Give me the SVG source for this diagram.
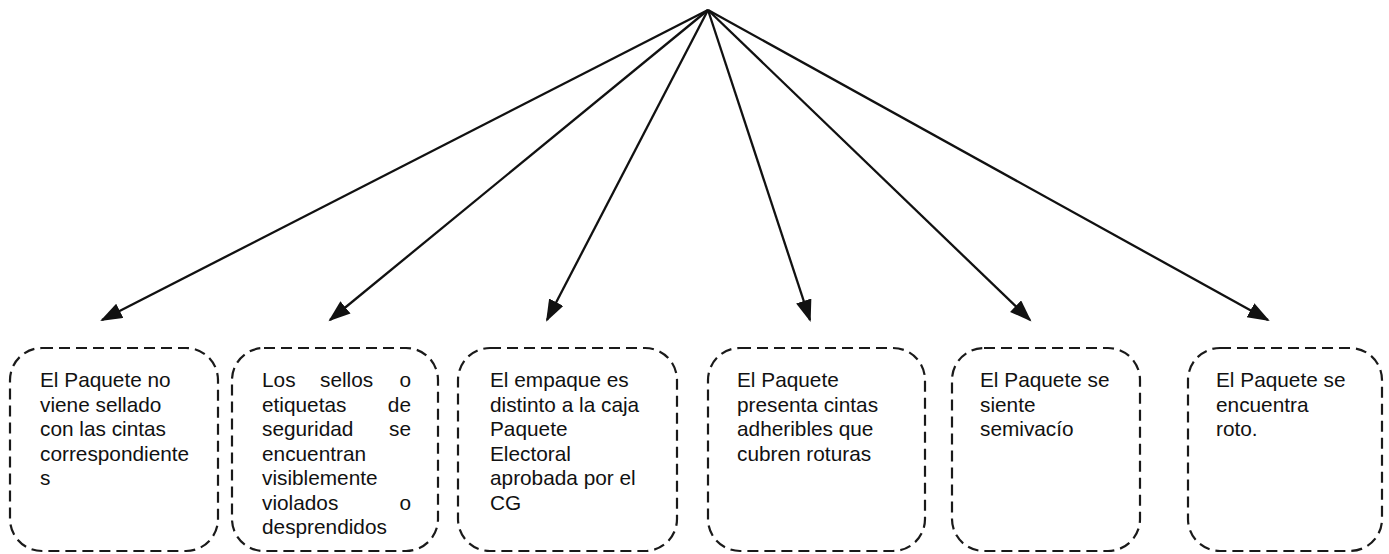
<svg xmlns="http://www.w3.org/2000/svg" width="1389" height="554" viewBox="0 0 1389 554">
<style>
.box{fill:none;stroke:#1a1a1a;stroke-width:2.2;stroke-dasharray:11 6}
.t{font-family:"Liberation Sans",Arial,sans-serif;font-size:20.8px;fill:#111}
.c{stroke:#111;stroke-width:2.3;fill:none}
</style>
<defs>
<marker id="ah" markerUnits="userSpaceOnUse" markerWidth="24" markerHeight="18" refX="20" refY="8" orient="auto">
<path d="M0,0 L22,8 L0,16 z" fill="#111"/>
</marker>
</defs>
<rect width="1389" height="554" fill="#fff"/>
<g id="connectors">
<line class="c" x1="708" y1="10" x2="102" y2="320" marker-end="url(#ah)"/>
<line class="c" x1="708" y1="10" x2="330" y2="320" marker-end="url(#ah)"/>
<line class="c" x1="708" y1="10" x2="547" y2="320" marker-end="url(#ah)"/>
<line class="c" x1="708" y1="10" x2="810" y2="320" marker-end="url(#ah)"/>
<line class="c" x1="708" y1="10" x2="1030" y2="320" marker-end="url(#ah)"/>
<line class="c" x1="708" y1="10" x2="1268" y2="320" marker-end="url(#ah)"/>
</g>
<g id="n1">
<rect class="box" x="10" y="348" width="208" height="203" rx="32"/>
<text class="t"><tspan x="40" y="387">El Paquete no</tspan><tspan x="40" y="411.5">viene sellado</tspan><tspan x="40" y="436">con las cintas</tspan><tspan x="40" y="460.5">correspondiente</tspan><tspan x="40" y="485">s</tspan></text>
</g>
<g id="n2">
<rect class="box" x="232" y="348" width="206" height="203" rx="32"/>
<text class="t"><tspan x="262" y="387">Los</tspan><tspan x="320" y="387">sellos</tspan><tspan x="411" y="387" text-anchor="end">o</tspan></text>
<text class="t"><tspan x="262" y="411.5">etiquetas</tspan><tspan x="411" y="411.5" text-anchor="end">de</tspan></text>
<text class="t"><tspan x="262" y="436">seguridad</tspan><tspan x="411" y="436" text-anchor="end">se</tspan></text>
<text class="t"><tspan x="262" y="460.5">encuentran</tspan><tspan x="262" y="485">visiblemente</tspan></text>
<text class="t"><tspan x="262" y="509.5">violados</tspan><tspan x="411" y="509.5" text-anchor="end">o</tspan></text>
<text class="t"><tspan x="262" y="534">desprendidos</tspan></text>
</g>
<g id="n3">
<rect class="box" x="458" y="348" width="219" height="203" rx="32"/>
<text class="t"><tspan x="490" y="387">El empaque es</tspan><tspan x="490" y="411.5">distinto a la caja</tspan><tspan x="490" y="436">Paquete</tspan><tspan x="490" y="460.5">Electoral</tspan><tspan x="490" y="485">aprobada por el</tspan><tspan x="490" y="509.5">CG</tspan></text>
</g>
<g id="n4">
<rect class="box" x="708" y="348" width="217" height="203" rx="32"/>
<text class="t"><tspan x="737" y="387">El Paquete</tspan><tspan x="737" y="411.5">presenta cintas</tspan><tspan x="737" y="436">adheribles que</tspan><tspan x="737" y="460.5">cubren roturas</tspan></text>
</g>
<g id="n5">
<rect class="box" x="952" y="348" width="188" height="203" rx="32"/>
<text class="t"><tspan x="980" y="387">El Paquete se</tspan><tspan x="980" y="411.5">siente</tspan><tspan x="980" y="436">semivacío</tspan></text>
</g>
<g id="n6">
<rect class="box" x="1188" y="348" width="194" height="203" rx="32"/>
<text class="t"><tspan x="1216" y="387">El Paquete se</tspan><tspan x="1216" y="411.5">encuentra</tspan><tspan x="1216" y="436">roto.</tspan></text>
</g>
</svg>
